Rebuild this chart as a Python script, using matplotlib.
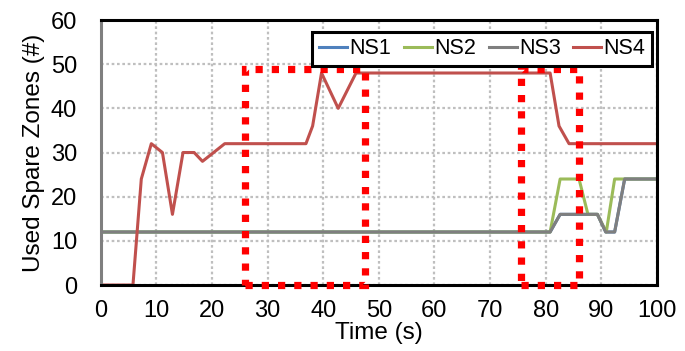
import matplotlib
matplotlib.use("Agg")
import matplotlib.pyplot as plt
from matplotlib.patches import Rectangle

plt.rcParams["font.family"] = ["Liberation Sans", "DejaVu Sans"]

# ----------------------------------
# Data
# ----------------------------------

ns1_t = [0, 80.8, 82.6, 89.3, 90.8, 92.4, 94.2, 100]
ns1_y = [12, 12, 16, 16, 12, 12, 24, 24]

ns2_t = [0, 80.8, 82.6, 86.0, 87.6, 89.3, 90.9, 92.4, 100]
ns2_y = [12, 12, 24, 24, 16, 16, 12, 24, 24]

ns3_t = [0, 80.8, 82.6, 89.3, 90.8, 92.4, 94.2, 100]
ns3_y = [12, 12, 16, 16, 12, 12, 24, 24]

ns4_t = [0, 5.8, 7.3, 9.1, 11.1, 12.9, 14.8, 16.8, 18.3, 22.3,
         36.9, 38.1, 39.7, 42.7, 45.9, 80.8, 82.4, 84.2, 100]
ns4_y = [0, 0, 24, 32, 30, 16, 30, 30, 28, 32,
         32, 36, 48, 40, 48, 48, 36, 32, 32]

# highlighted windows: (t_start, t_end, top)
windows = [(25.9, 47.5, 49), (75.6, 86.0, 49)]

colors = {"NS1": "#4F81BD", "NS2": "#9BBB59", "NS3": "#7F7F7F", "NS4": "#C0504D"}

# ----------------------------------
# Plot
# ----------------------------------

fig = plt.figure(figsize=(6.85, 3.51), dpi=100)
ax = fig.add_axes([0.147, 0.188, 0.812, 0.755])

ax.plot(ns1_t, ns1_y, color=colors["NS1"], lw=2.2, label="NS1")
ax.plot(ns2_t, ns2_y, color=colors["NS2"], lw=2.2, label="NS2")
ax.plot(ns3_t, ns3_y, color=colors["NS3"], lw=2.2, label="NS3")
ax.plot(ns4_t, ns4_y, color=colors["NS4"], lw=2.2, label="NS4")

for t0, t1, top in windows:
    ax.add_patch(Rectangle((t0, 0), t1 - t0, top, fill=False,
                           edgecolor="#FF0000", lw=5.2,
                           linestyle=(0, (1, 1.25)), capstyle="butt",
                           joinstyle="miter", clip_on=False, zorder=5))

ax.set_xlim(0, 100)
ax.set_ylim(0, 60)
ax.set_xticks(range(0, 101, 10))
ax.set_yticks(range(0, 61, 10))
ax.tick_params(labelsize=17, length=0)
ax.tick_params(axis="x", pad=11)
ax.tick_params(axis="y", pad=17)
ax.grid(True, color="#BFBFBF", linestyle=(0, (1.2, 1.2)), lw=1.6)
ax.set_axisbelow(True)

for side in ["top", "right", "bottom"]:
    ax.spines[side].set_color("black")
    ax.spines[side].set_linewidth(2.2)
ax.spines["left"].set_color("#7F7F7F")
ax.spines["left"].set_linewidth(2.2)

ax.set_xlabel("Time (s)", fontsize=17.5, labelpad=0)
ax.set_ylabel("Used Spare Zones (#)", fontsize=17.5, labelpad=4)

leg = ax.legend(loc="upper right", ncol=4, fontsize=15.5, frameon=True,
                fancybox=False, handlelength=1.3, handletextpad=0.1,
                columnspacing=0.6, borderpad=0.3, borderaxespad=0,
                bbox_to_anchor=(0.991, 0.955))
leg.get_frame().set_edgecolor("black")
leg.get_frame().set_linewidth(2.2)
leg.get_frame().set_alpha(1)

fig.savefig("out.png", dpi=100)
